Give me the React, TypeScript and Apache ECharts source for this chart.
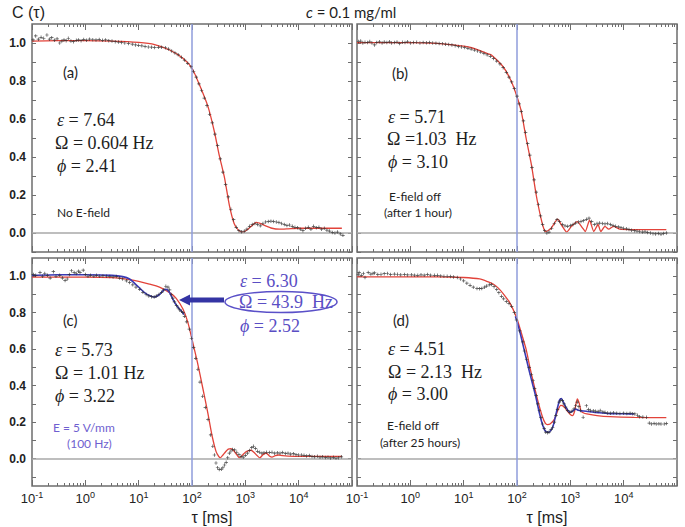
import React, { useEffect, useRef } from 'react';
import * as echarts from 'echarts';

// x values are log10(tau / ms); y values are C(tau)
const xLabelExponents = [-1, 0, 1, 2, 3, 4];
const yLabelValues = [0, 0.2, 0.4, 0.6, 0.8, 1.0];
const yTickValues = [-0.1, 0, 0.1, 0.2, 0.3, 0.4, 0.5, 0.6, 0.7, 0.8, 0.9, 1.0];

// ---------- panel (a) ----------
const aPoints = [
  [-0.98, 1.016], [-0.93, 1.037], [-0.88, 1.02], [-0.83, 1.03], [-0.78, 1.025], [-0.72, 1.042], [-0.67, 1.02],
  [-0.63, 1.028], [-0.58, 1.015], [-0.53, 1.022], [-0.48, 1.0], [-0.44, 1.01], [-0.40, 1.016], [-0.36, 1.012],
  [-0.32, 1.025], [-0.27, 1.01], [-0.22, 1.007], [-0.17, 1.014], [-0.13, 1.016], [-0.08, 1.012], [-0.03, 1.018],
  [0.02, 1.015], [0.08, 1.02], [0.14, 1.017], [0.2, 1.016], [0.26, 1.018], [0.32, 1.014], [0.38, 1.016],
  [0.44, 1.012], [0.5, 1.01], [0.56, 1.007], [0.62, 1.005], [0.68, 1.003], [0.74, 1.0], [0.81, 0.998],
  [0.88, 0.994], [0.94, 0.99], [1.0, 0.988], [1.06, 0.985], [1.12, 0.982], [1.18, 0.979], [1.24, 0.978],
  [1.3, 0.976], [1.37, 0.977], [1.43, 0.978], [1.5, 0.975], [1.56, 0.968], [1.62, 0.958], [1.68, 0.948],
  [1.74, 0.938], [1.8, 0.925], [1.86, 0.91], [1.92, 0.893], [1.98, 0.875], [2.03, 0.85], [2.08, 0.82],
  [2.13, 0.785], [2.18, 0.75], [2.23, 0.71], [2.28, 0.67], [2.33, 0.625], [2.38, 0.58], [2.43, 0.52],
  [2.48, 0.46], [2.53, 0.39], [2.58, 0.32], [2.63, 0.255], [2.68, 0.19], [2.73, 0.125], [2.78, 0.07],
  [2.83, 0.03], [2.88, 0.012], [2.93, 0.006], [2.98, 0.01], [3.03, 0.02], [3.08, 0.035], [3.13, 0.045],
  [3.18, 0.05], [3.23, 0.045], [3.28, 0.038], [3.33, 0.05], [3.38, 0.058], [3.43, 0.06], [3.48, 0.062],
  [3.53, 0.06], [3.58, 0.058], [3.63, 0.055], [3.68, 0.05], [3.73, 0.045], [3.78, 0.04], [3.83, 0.042],
  [3.88, 0.035], [3.93, 0.03], [3.98, 0.028], [4.03, 0.02], [4.08, 0.012], [4.13, 0.025], [4.18, 0.03],
  [4.23, 0.02], [4.28, 0.035], [4.33, 0.028], [4.38, 0.03], [4.43, 0.02], [4.48, 0.025], [4.53, 0.015],
  [4.58, 0.01], [4.63, 0.003], [4.68, 0.0], [4.73, 0.005], [4.78, -0.005], [4.83, -0.012],
];
const aFit = [
  [-1, 1.01], [-0.5, 1.012], [0, 1.012], [0.5, 1.01], [1.0, 1.003], [1.3, 0.992], [1.58, 0.963], [1.83, 0.92],
  [2.0, 0.867], [2.14, 0.78], [2.3, 0.665], [2.42, 0.533], [2.51, 0.41], [2.61, 0.29], [2.7, 0.147],
  [2.79, 0.05], [2.87, 0.015], [2.95, 0.004], [3.07, 0.025], [3.21, 0.056], [3.3, 0.048], [3.36, 0.04],
  [3.5, 0.025], [3.64, 0.02], [3.8, 0.022], [4.0, 0.025], [4.5, 0.025], [4.81, 0.025],
];

// ---------- panel (b) ----------
const bPoints = [
  [-0.97, 1.008], [-0.93, 1.01], [-0.89, 1.0], [-0.85, 1.004], [-0.8, 1.002], [-0.76, 1.008], [-0.72, 1.0],
  [-0.67, 0.99], [-0.63, 1.003], [-0.58, 1.006], [-0.53, 1.0], [-0.49, 1.005], [-0.44, 1.002], [-0.39, 1.006],
  [-0.35, 1.0], [-0.3, 1.003], [-0.25, 1.005], [-0.2, 0.998], [-0.15, 1.004], [-0.1, 1.002], [-0.05, 1.006],
  [0.0, 1.0], [0.06, 1.003], [0.12, 1.004], [0.18, 1.0], [0.24, 1.003], [0.3, 1.001], [0.36, 1.002],
  [0.42, 1.0], [0.48, 0.999], [0.54, 0.998], [0.6, 0.996], [0.66, 0.994], [0.72, 0.992], [0.78, 0.99],
  [0.84, 0.986], [0.9, 0.982], [0.96, 0.979], [1.02, 0.976], [1.08, 0.972], [1.14, 0.968], [1.2, 0.963],
  [1.26, 0.958], [1.32, 0.952], [1.38, 0.945], [1.44, 0.938], [1.5, 0.93], [1.56, 0.918], [1.62, 0.905],
  [1.68, 0.89], [1.74, 0.87], [1.8, 0.845], [1.85, 0.82], [1.9, 0.795], [1.95, 0.76], [2.0, 0.72],
  [2.04, 0.68], [2.08, 0.64], [2.12, 0.59], [2.16, 0.53], [2.2, 0.47], [2.24, 0.41], [2.28, 0.345],
  [2.32, 0.28], [2.36, 0.215], [2.4, 0.15], [2.44, 0.09], [2.48, 0.045], [2.52, 0.012], [2.56, 0.0],
  [2.6, 0.005], [2.65, 0.025], [2.7, 0.05], [2.75, 0.07], [2.8, 0.06], [2.85, 0.045], [2.9, 0.038],
  [2.95, 0.035], [3.0, 0.04], [3.05, 0.045], [3.1, 0.052], [3.15, 0.058], [3.2, 0.06], [3.25, 0.065],
  [3.3, 0.072], [3.35, 0.078], [3.4, 0.06], [3.45, 0.045], [3.5, 0.05], [3.55, 0.052], [3.6, 0.05],
  [3.65, 0.048], [3.7, 0.05], [3.75, 0.045], [3.8, 0.04], [3.85, 0.035], [3.9, 0.032], [3.95, 0.028],
  [4.0, 0.025], [4.05, 0.022], [4.1, 0.018], [4.15, 0.015], [4.2, 0.012], [4.25, 0.01], [4.3, 0.008],
  [4.35, 0.005], [4.4, 0.006], [4.45, 0.002], [4.5, 0.0], [4.55, -0.004], [4.6, -0.005], [4.65, -0.002],
  [4.7, -0.006], [4.75, -0.003], [4.8, 0.0],
];
const bFit = [
  [-1, 1.002], [0, 1.002], [0.5, 0.998], [0.8, 0.99], [1.0, 0.983], [1.15, 0.975], [1.28, 0.963],
  [1.46, 0.943], [1.52, 0.937], [1.74, 0.875], [1.89, 0.8], [2.0, 0.717], [2.08, 0.64], [2.17, 0.5],
  [2.27, 0.36], [2.36, 0.2], [2.45, 0.077], [2.5, 0.025], [2.54, 0.007], [2.64, 0.025], [2.76, 0.073],
  [2.85, 0.035], [2.93, 0.005], [3.02, 0.035], [3.13, 0.06], [3.22, 0.03], [3.28, 0.008], [3.36, 0.068],
  [3.44, 0.008], [3.52, 0.045], [3.57, 0.008], [3.65, 0.035], [3.72, 0.02], [3.81, 0.035], [3.93, 0.02],
  [4.12, 0.018], [4.8, 0.018],
];

// ---------- panel (c) ----------
const cPoints = [
  [-0.975, 1.01], [-0.93, 1.005], [-0.85, 1.02], [-0.8, 1.0], [-0.76, 1.015], [-0.71, 1.005], [-0.66, 0.99],
  [-0.6, 1.025], [-0.55, 1.0], [-0.48, 1.005], [-0.43, 0.99], [-0.38, 0.976], [-0.34, 0.985], [-0.3, 1.01],
  [-0.26, 1.03], [-0.21, 1.02], [-0.17, 1.015], [-0.13, 1.028], [-0.1, 1.02], [-0.04, 1.033], [0.0, 1.01],
  [0.05, 1.0], [0.1, 1.005], [0.16, 1.0], [0.21, 1.005], [0.27, 1.0], [0.33, 1.002], [0.4, 1.0],
  [0.46, 0.998], [0.52, 0.996], [0.58, 0.998], [0.64, 0.99], [0.7, 0.985], [0.77, 0.975], [0.83, 0.965],
  [0.89, 0.953], [0.95, 0.94], [1.02, 0.928], [1.08, 0.912], [1.14, 0.9], [1.19, 0.892], [1.24, 0.888],
  [1.29, 0.886], [1.33, 0.891], [1.38, 0.9], [1.43, 0.912], [1.47, 0.925], [1.51, 0.945], [1.55, 0.94],
  [1.58, 0.925], [1.61, 0.9], [1.64, 0.88], [1.67, 0.86], [1.71, 0.84], [1.74, 0.826], [1.77, 0.815],
  [1.8, 0.808], [1.83, 0.8], [1.86, 0.78], [1.9, 0.75], [1.95, 0.71], [1.99, 0.66], [2.03, 0.61],
  [2.07, 0.55], [2.11, 0.49], [2.15, 0.42], [2.2, 0.342], [2.25, 0.28], [2.3, 0.214], [2.35, 0.13],
  [2.39, 0.068], [2.42, 0.02], [2.45, -0.024], [2.48, -0.05], [2.51, -0.06], [2.55, -0.058], [2.58, -0.05],
  [2.61, -0.035], [2.64, -0.02], [2.67, 0.005], [2.7, 0.03], [2.73, 0.042], [2.76, 0.05], [2.8, 0.048],
  [2.84, 0.035], [2.88, 0.022], [2.92, 0.012], [2.96, 0.008], [3.0, 0.018], [3.04, 0.03], [3.08, 0.045],
  [3.12, 0.06], [3.15, 0.068], [3.19, 0.055], [3.23, 0.04], [3.27, 0.035], [3.31, 0.03], [3.35, 0.032],
  [3.4, 0.035], [3.45, 0.033], [3.5, 0.035], [3.55, 0.03], [3.6, 0.032], [3.65, 0.03], [3.7, 0.034],
  [3.75, 0.028], [3.8, 0.03], [3.85, 0.025], [3.9, 0.027], [3.95, 0.022], [4.0, 0.02], [4.05, 0.02],
  [4.1, 0.018], [4.15, 0.015], [4.2, 0.017], [4.25, 0.012], [4.3, 0.01], [4.35, 0.013], [4.4, 0.008],
  [4.45, 0.01], [4.5, 0.006], [4.55, 0.008], [4.6, 0.004], [4.65, 0.007], [4.7, 0.003], [4.75, 0.005],
  [4.8, 0.01],
];
const cFit = [
  [-1, 0.995], [0, 0.995], [0.5, 0.992], [0.8, 0.983], [1.0, 0.972], [1.2, 0.957], [1.39, 0.94],
  [1.58, 0.91], [1.7, 0.88], [1.83, 0.82], [1.92, 0.75], [2.0, 0.655], [2.1, 0.53], [2.2, 0.39],
  [2.3, 0.245], [2.38, 0.12], [2.45, 0.04], [2.5, 0.012], [2.53, 0.004], [2.58, 0.02], [2.63, 0.038],
  [2.68, 0.052], [2.73, 0.055], [2.78, 0.045], [2.83, 0.025], [2.89, 0.004], [2.95, 0.02], [3.0, 0.035],
  [3.06, 0.044], [3.11, 0.046], [3.16, 0.035], [3.21, 0.02], [3.27, 0.004], [3.33, 0.022], [3.39, 0.031],
  [3.45, 0.015], [3.5, 0.008], [3.56, 0.016], [3.62, 0.02], [3.7, 0.016], [3.8, 0.014], [4.2, 0.012],
  [4.81, 0.012],
];
const cBlueFit = [
  [-1, 1.005], [-0.5, 1.008], [0, 1.008], [0.5, 1.005], [0.7, 0.998], [0.83, 0.985], [0.93, 0.96],
  [1.02, 0.935], [1.11, 0.91], [1.21, 0.893], [1.3, 0.886], [1.39, 0.9], [1.45, 0.918], [1.49, 0.928],
  [1.53, 0.927], [1.58, 0.91], [1.64, 0.875], [1.7, 0.845], [1.76, 0.822], [1.8, 0.81], [1.85, 0.79],
];

// ---------- panel (d) ----------
const dPoints = [
  [-0.975, 1.011], [-0.96, 1.02], [-0.92, 1.005], [-0.88, 1.015], [-0.85, 0.993], [-0.79, 1.02],
  [-0.74, 1.012], [-0.7, 1.015], [-0.67, 1.018], [-0.61, 1.01], [-0.55, 1.011], [-0.49, 1.014],
  [-0.43, 1.015], [-0.37, 1.01], [-0.3, 1.012], [-0.24, 1.011], [-0.18, 1.008], [-0.11, 1.01],
  [-0.05, 1.007], [0.02, 1.008], [0.08, 1.006], [0.14, 1.005], [0.2, 1.008], [0.26, 1.006], [0.32, 1.009],
  [0.38, 1.006], [0.45, 1.005], [0.51, 1.005], [0.57, 1.002], [0.63, 1.0], [0.69, 1.0], [0.75, 0.998],
  [0.81, 0.996], [0.88, 0.993], [0.94, 0.985], [1.0, 0.975], [1.06, 0.962], [1.12, 0.95], [1.18, 0.94],
  [1.25, 0.933], [1.3, 0.932], [1.34, 0.933], [1.39, 0.94], [1.43, 0.946], [1.48, 0.953], [1.52, 0.955],
  [1.57, 0.943], [1.62, 0.927], [1.66, 0.91], [1.71, 0.89], [1.75, 0.876], [1.8, 0.862], [1.85, 0.85],
  [1.9, 0.835], [1.95, 0.8], [1.99, 0.76], [2.05, 0.7], [2.11, 0.64], [2.14, 0.59], [2.18, 0.545],
  [2.23, 0.5], [2.27, 0.46], [2.3, 0.427], [2.33, 0.385], [2.36, 0.345], [2.39, 0.3], [2.42, 0.264],
  [2.45, 0.225], [2.48, 0.19], [2.51, 0.165], [2.54, 0.145], [2.57, 0.142], [2.6, 0.145], [2.64, 0.16],
  [2.67, 0.172], [2.7, 0.2], [2.73, 0.236], [2.76, 0.27], [2.79, 0.31], [2.82, 0.32], [2.85, 0.318],
  [2.88, 0.3], [2.91, 0.282], [2.95, 0.265], [2.99, 0.254], [3.03, 0.26], [3.07, 0.273], [3.1, 0.29],
  [3.13, 0.31], [3.16, 0.285], [3.19, 0.264], [3.24, 0.227], [3.3, 0.29], [3.34, 0.27], [3.38, 0.264],
  [3.43, 0.262], [3.47, 0.26], [3.52, 0.258], [3.56, 0.264], [3.61, 0.256], [3.65, 0.254], [3.7, 0.25],
  [3.75, 0.249], [3.81, 0.251], [3.87, 0.249], [3.93, 0.248], [4.0, 0.249], [4.06, 0.247], [4.12, 0.249],
  [4.17, 0.246], [4.21, 0.245], [4.26, 0.238], [4.3, 0.23], [4.36, 0.228], [4.43, 0.227], [4.48, 0.195],
  [4.52, 0.19], [4.57, 0.192], [4.61, 0.19], [4.66, 0.191], [4.7, 0.19], [4.76, 0.19], [4.8, 0.192],
];
const dFit = [
  [-1, 0.997], [0, 0.997], [0.5, 0.997], [1.0, 0.993], [1.3, 0.985], [1.45, 0.97], [1.56, 0.956],
  [1.65, 0.935], [1.74, 0.905], [1.86, 0.857], [1.99, 0.775], [2.08, 0.69], [2.17, 0.6], [2.25, 0.49],
  [2.3, 0.427], [2.39, 0.318], [2.48, 0.227], [2.53, 0.195], [2.57, 0.187], [2.62, 0.19], [2.7, 0.215],
  [2.76, 0.26], [2.82, 0.292], [2.88, 0.285], [2.94, 0.262], [3.0, 0.242], [3.04, 0.236], [3.08, 0.26],
  [3.13, 0.327], [3.17, 0.3], [3.2, 0.262], [3.25, 0.25], [3.31, 0.245], [3.5, 0.236], [3.74, 0.23],
  [4.2, 0.226], [4.8, 0.225],
];
const dBlueFit = [
  [1.97, 0.78], [2.05, 0.7], [2.14, 0.59], [2.23, 0.48], [2.3, 0.4], [2.36, 0.33], [2.42, 0.25],
  [2.48, 0.185], [2.54, 0.148], [2.6, 0.145], [2.67, 0.172], [2.72, 0.23], [2.76, 0.28], [2.8, 0.322],
  [2.83, 0.33], [2.87, 0.31], [2.91, 0.285], [2.96, 0.262], [3.0, 0.254], [3.05, 0.262], [3.1, 0.272],
  [3.15, 0.265], [3.2, 0.262], [3.3, 0.26], [3.44, 0.254], [3.6, 0.25], [3.75, 0.247], [4.0, 0.246],
  [4.2, 0.245],
];

const serif = '"Liberation Serif", "Times New Roman", serif';
const sans = '"Liberation Sans", Arial, sans-serif';
const calib = 'Lato, "Open Sans", sans-serif';
const INK = '#1e1e1e';
const BLUE_TXT = '#5a4ec4';
const FRAME = '#6e6e6e';

function formula(x: number, y: number, sym: string, italic: boolean, rest: string, color: string) {
  return {
    type: 'text',
    x,
    y,
    z: 100,
    style: {
      text: italic ? `{i|${sym}}{r|${rest}}` : `{r|${sym}${rest}}`,
      rich: {
        i: { fontFamily: serif, fontSize: 18, fontStyle: 'italic', fill: color },
        r: { fontFamily: serif, fontSize: 18, fill: color },
      },
      textAlign: 'left',
      textVerticalAlign: 'middle',
    },
  };
}

function label(x: number, y: number, text: string, size: number, color: string, align = 'left', family = calib) {
  return {
    type: 'text',
    x,
    y,
    z: 100,
    style: {
      text,
      fill: color,
      font: `${size}px ${family}`,
      textAlign: align,
      textVerticalAlign: 'middle',
    },
  };
}

export default function App() {
  const ref = useRef<HTMLDivElement>(null);

  useEffect(() => {
    if (!ref.current) return;
    const chart = echarts.init(ref.current, undefined, { renderer: 'svg' });

    const majorX = [-1, 0, 1, 2, 3, 4, 5];
    const minorX: number[] = [];
    for (let n = -1; n < 5; n++) for (let k = 2; k <= 9; k++) minorX.push(n + Math.log10(k));

    const panels = [
      { left: 32, top: 24, yMin: -0.1, pts: aPoints, fit: aFit, blue: null as any, yLab: true, xLab: false },
      { left: 357, top: 24, yMin: -0.1, pts: bPoints, fit: bFit, blue: null as any, yLab: false, xLab: false },
      { left: 32, top: 258, yMin: -0.15, pts: cPoints, fit: cFit, blue: cBlueFit, yLab: true, xLab: true },
      { left: 357, top: 258, yMin: -0.15, pts: dPoints, fit: dFit, blue: dBlueFit, yLab: false, xLab: true },
    ];

    const grid: any[] = [];
    const xAxis: any[] = [];
    const yAxis: any[] = [];
    const series: any[] = [];

    panels.forEach((p, gi) => {
      grid.push({
        left: p.left, top: p.top, width: 320, height: 228, show: true,
        borderColor: FRAME, borderWidth: 1.5, backgroundColor: 'transparent', containLabel: false,
      });
      const mkX = (pos: string, ticks: number[], len: number, withLabels: boolean) => ({
        type: 'value', gridIndex: gi, position: pos, min: -1, max: 5,
        axisLine: { show: false, onZero: false }, splitLine: { show: false },
        axisTick: { show: true, inside: true, length: len, customValues: ticks, lineStyle: { color: FRAME, width: 1 } },
        axisLabel: withLabels
          ? {
              show: true, customValues: xLabelExponents, margin: 4,
              formatter: (v: number) => `{b|10}{s|${Math.round(v)}}`,
              rich: {
                b: { fontFamily: sans, fontSize: 13, color: '#222', verticalAlign: 'bottom', lineHeight: 15 },
                s: { fontFamily: sans, fontSize: 9, color: '#222', verticalAlign: 'top', lineHeight: 9 },
              },
            }
          : { show: false },
      });
      xAxis.push(mkX('bottom', minorX, 3, p.xLab));
      xAxis.push(mkX('bottom', majorX, 6, false));
      xAxis.push(mkX('top', minorX, 3, false));
      xAxis.push(mkX('top', majorX, 6, false));
      const mkY = (pos: string, withLabels: boolean) => ({
        type: 'value', gridIndex: gi, position: pos, min: p.yMin, max: 1.1,
        axisLine: { show: false, onZero: false }, splitLine: { show: false },
        axisTick: { show: true, inside: true, length: 4, customValues: yTickValues, lineStyle: { color: FRAME, width: 1 } },
        axisLabel: withLabels
          ? {
              show: true, customValues: yLabelValues, margin: 6,
              formatter: (v: number) => v.toFixed(1),
              fontFamily: sans, fontSize: 12, color: '#222', fontWeight: 'bold',
            }
          : { show: false },
      });
      yAxis.push(mkY('left', p.yLab));
      yAxis.push(mkY('right', false));

      const xi = gi * 4;
      const yi = gi * 2;
      series.push({
        type: 'line', xAxisIndex: xi, yAxisIndex: yi, data: [], z: 1, silent: true,
        markLine: {
          silent: true, symbol: 'none', label: { show: false }, animation: false,
          data: [
            { yAxis: 0, lineStyle: { color: '#a9a9a9', width: 1.5, type: 'solid' } },
            { xAxis: 2, lineStyle: { color: '#8f9ddb', width: 1.5, type: 'solid' } },
          ],
        },
      });
      series.push({
        type: 'line', xAxisIndex: xi, yAxisIndex: yi, data: p.fit, showSymbol: false, smooth: 0.2,
        lineStyle: { color: '#e2433a', width: 1.3 }, z: 3, silent: true,
      });
      if (p.blue) {
        series.push({
          type: 'line', xAxisIndex: xi, yAxisIndex: yi, data: p.blue, showSymbol: false, smooth: 0.2,
          lineStyle: { color: '#3a3ab4', width: 1.6 }, z: 4, silent: true,
        });
      }
      series.push({
        type: 'scatter', xAxisIndex: xi, yAxisIndex: yi, data: p.pts, z: 5, silent: true,
        symbol: 'path://M4 0H6V4H10V6H6V10H4V6H0V4H4Z', symbolSize: 3.5,
        itemStyle: { color: '#2a2a2a', opacity: 0.85 },
      });
    });

    const graphic: any[] = [
      label(12, 12, 'C (\u03c4)', 16, INK, 'left', sans),
      {
        type: 'text', x: 306, y: 12, z: 100,
        style: {
          text: '{i|c}{r| = 0.1 mg/ml}',
          rich: {
            i: { fontFamily: calib, fontSize: 15, fontStyle: 'italic', fill: INK },
            r: { fontFamily: calib, fontSize: 15, fill: INK },
          },
          textAlign: 'left', textVerticalAlign: 'middle',
        },
      },
      // (a)
      label(63, 72, '(a)', 15, INK),
      formula(57, 120, '\u03b5', true, ' = 7.64', INK),
      formula(55, 143, '\u03a9', false, ' = 0.604 Hz', INK),
      formula(57, 166, '\u03d5', true, ' = 2.41', INK),
      label(57, 212, 'No E-field', 12, INK),
      // (b)
      label(392, 73, '(b)', 15, INK),
      formula(388, 117, '\u03b5', true, ' = 5.71', INK),
      formula(387, 139, '\u03a9', false, ' =1.03  Hz', INK),
      formula(388, 162, '\u03d5', true, ' = 3.10', INK),
      label(415, 196, 'E-field off', 12, INK, 'center'),
      label(418, 212, '(after 1 hour)', 12, INK, 'center'),
      // (c)
      label(63, 320, '(c)', 15, INK),
      formula(55, 350, '\u03b5', true, ' = 5.73', INK),
      formula(55, 373, '\u03a9', false, ' = 1.01 Hz', INK),
      formula(55, 396, '\u03d5', true, ' = 3.22', INK),
      label(53, 427, 'E = 5 V/mm', 12, '#6f5fd0'),
      label(67, 443, '(100 Hz)', 12, '#6f5fd0'),
      formula(240, 281, '\u03b5', true, ' = 6.30', BLUE_TXT),
      formula(239, 302, '\u03a9', false, ' = 43.9  Hz', BLUE_TXT),
      formula(240, 326, '\u03d5', true, ' = 2.52', BLUE_TXT),
      {
        type: 'ellipse', z: 100,
        shape: { cx: 281, cy: 302, rx: 56, ry: 10.5 },
        style: { fill: 'none', stroke: '#5a50c8', lineWidth: 1.5 },
      },
      {
        type: 'rect', z: 100,
        shape: { x: 186, y: 297.5, width: 38, height: 5 },
        style: { fill: '#3434a4' },
      },
      {
        type: 'polygon', z: 100,
        shape: { points: [[179, 300], [190, 294.5], [190, 305.5]] },
        style: { fill: '#3434a4' },
      },
      // (d)
      label(393, 320, '(d)', 15, INK),
      formula(388, 349, '\u03b5', true, ' = 4.51', INK),
      formula(388, 372, '\u03a9', false, ' = 2.13  Hz', INK),
      formula(388, 394, '\u03d5', true, ' = 3.00', INK),
      label(413, 425, 'E-field off', 12, INK, 'center'),
      label(420, 442, '(after 25 hours)', 12, INK, 'center'),
      // x titles
      label(212, 517, '\u03c4 [ms]', 16, INK, 'center', sans),
      label(547, 517, '\u03c4 [ms]', 16, INK, 'center', sans),
    ];

    chart.setOption({
      animation: false,
      backgroundColor: '#ffffff',
      grid, xAxis, yAxis, series, graphic,
    });

    return () => chart.dispose();
  }, []);

  return (
    <div
      ref={ref}
      style={{ position: 'fixed', left: 0, top: 0, width: 685, height: 527, background: '#fff' }}
    />
  );
}
